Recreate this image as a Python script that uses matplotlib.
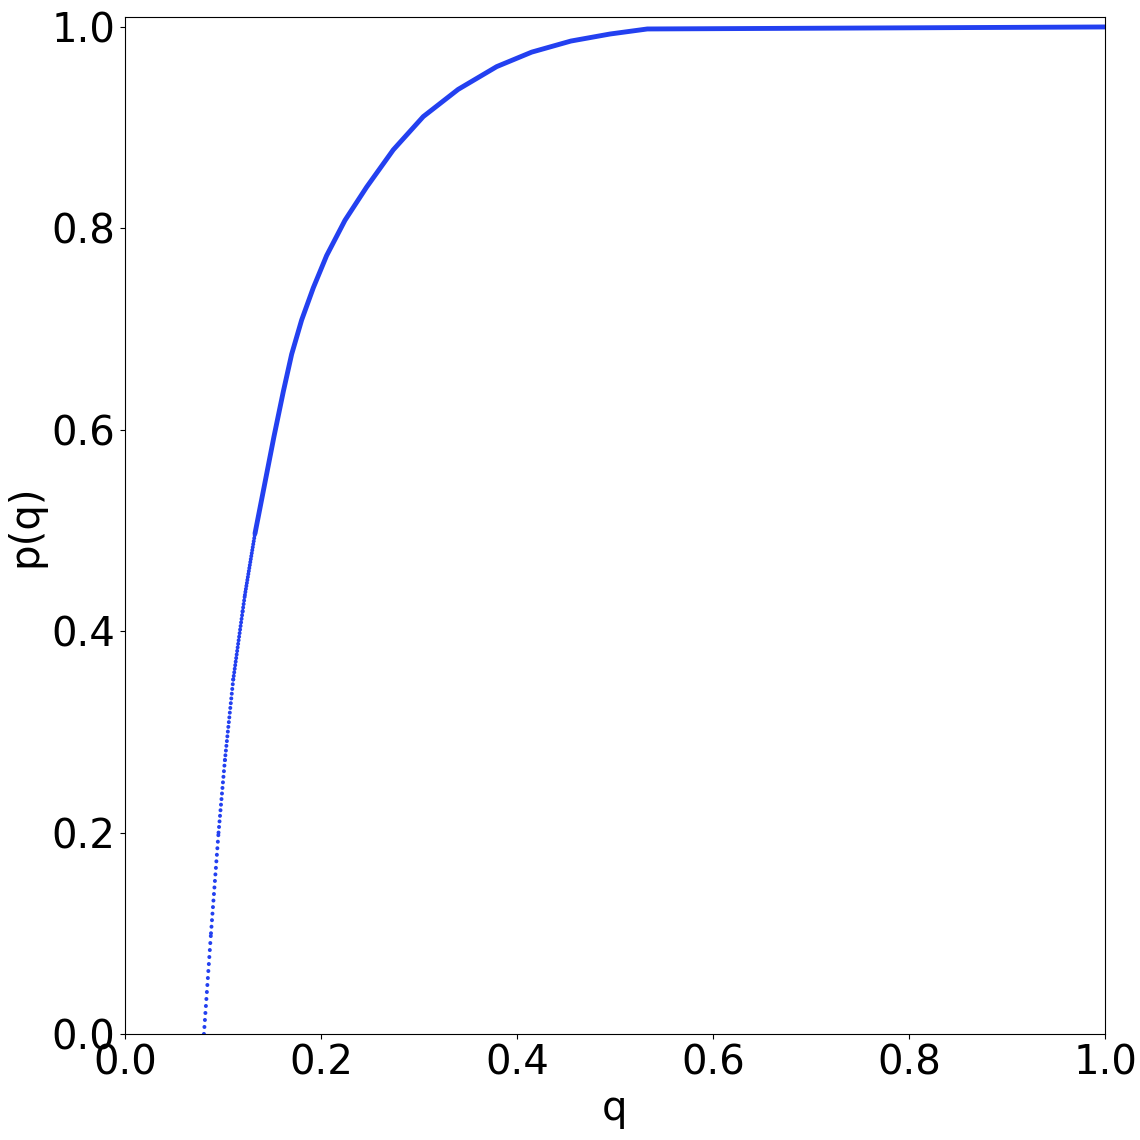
import numpy as np
import matplotlib
matplotlib.use("Agg")
import matplotlib.pyplot as plt

# Values
q_vals = [0.0806, 0.0878, 0.0955, 0.1020, 0.1105, 0.1201, 0.1224, 0.1327,
          0.1520, 0.1616, 0.1701, 0.1803, 0.1922, 0.2058, 0.2245, 0.2466,
          0.2738, 0.3044, 0.3400, 0.3793, 0.4150, 0.4550, 0.4950, 0.5330,
          1.0000]
p_vals = [0.000, 0.100, 0.200, 0.272, 0.352, 0.420, 0.436, 0.497,
          0.593, 0.638, 0.675, 0.709, 0.741, 0.773, 0.808, 0.841,
          0.878, 0.911, 0.938, 0.9606, 0.975, 0.986, 0.993, 0.998,
          1.000]
x_ticks = [0.0, 0.2, 0.4, 0.6, 0.8, 1.0]
y_ticks = [0.0, 0.2, 0.4, 0.6, 0.8, 1.0]

COLOR = '#2340f0'
FS = 29

fig = plt.figure(figsize=(11.4, 11.4), dpi=100)
ax = fig.add_axes([0.1096, 0.0930, 0.8597, 0.8921])

q = np.array(q_vals)
p = np.array(p_vals)

dot_lw = 2.9   # points (~4 px)
ax_w_px = 980.0
ax_h_px = 1007.0
step_q = 0.0005

# dotted part (sparse samples) and solid part (dense samples)
n_dot = 0
for i in range(len(q) - 1):
    slope = (p[i + 1] - p[i]) / (q[i + 1] - q[i])
    spacing_px = step_q * ax_w_px * np.hypot(1.0, slope * ax_h_px / ax_w_px)
    if spacing_px > 3.0 and p[i] < 0.5:
        gap = spacing_px * 0.72 / dot_lw - 0.01
        ax.plot(q[i:i + 2], p[i:i + 2], color=COLOR, lw=dot_lw,
                linestyle=(0, (0.01, gap)), dash_capstyle='round')
        n_dot = i + 1

ax.plot(q[n_dot:], p[n_dot:], color=COLOR, lw=3.5,
        solid_capstyle='round', solid_joinstyle='round')

ax.set_xlim(0, 1.0)
ax.set_ylim(0, 1.0099)
ax.set_xticks(x_ticks)
ax.set_yticks(y_ticks)
ax.set_xticklabels([f"{v:.1f}" for v in x_ticks])
ax.set_yticklabels([f"{v:.1f}" for v in y_ticks])
ax.tick_params(labelsize=FS)
ax.set_xlabel('q', fontsize=FS)
ax.set_ylabel('p(q)', fontsize=FS)

fig.savefig('out.png', dpi=100)
